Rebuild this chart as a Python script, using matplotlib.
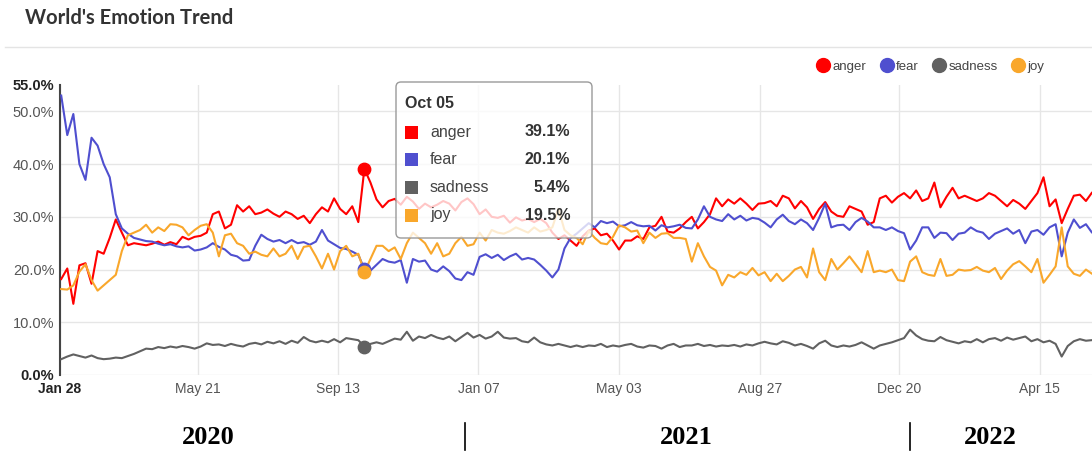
# World's Emotion Trend - share of tweets per emotion, Jan 2020 to May 2022
import matplotlib.pyplot as plt
import pandas as pd
from matplotlib.lines import Line2D
from matplotlib.patches import FancyBboxPatch, Rectangle

# one value every 5 days, starting 2020-01-29
dates = pd.date_range('2020-01-29', periods=172, freq='5D')

anger = [18.2, 20.2, 13.5, 20.8, 21.2, 17.3, 23.5, 23.0, 26.0, 29.5,
         27.0, 24.6, 25.0, 24.8, 24.6, 24.9, 25.3, 24.7, 25.2, 24.8,
         26.2, 25.7, 26.2, 26.4, 27.0, 30.5, 31.0, 27.8, 28.5, 32.2,
         31.0, 32.0, 30.5, 30.8, 31.4, 30.6, 30.0, 31.0, 30.5, 29.6,
         30.2, 28.8, 30.5, 31.8, 31.0, 33.5, 31.5, 30.5, 32.0, 29.0,
         39.1, 36.5, 33.3, 31.8, 33.0, 33.4, 32.3, 33.8, 32.9, 31.5,
         32.5, 31.8, 32.3, 33.0, 32.5, 31.2, 32.8, 33.5, 32.4, 30.5,
         31.4, 30.0, 29.8, 30.2, 28.9, 29.9, 29.3, 29.6, 29.0, 29.6,
         28.8, 27.0, 25.8, 26.5, 25.5, 24.5, 26.3, 27.4, 27.8, 26.5,
         26.8, 25.5, 23.8, 25.5, 25.5, 26.3, 25.8, 28.0, 28.3, 30.0,
         27.2, 27.0, 27.8, 29.0, 30.0, 27.8, 29.0, 30.5, 33.5, 32.0,
         33.3, 32.5, 33.5, 32.5, 31.3, 32.5, 32.6, 33.0, 32.0, 34.0,
         33.5, 31.6, 33.0, 31.8, 29.6, 31.5, 32.8, 31.0, 30.2, 30.0,
         32.0, 31.5, 31.0, 28.5, 29.0, 33.5, 34.0, 32.7, 33.8, 34.5,
         33.5, 35.0, 33.0, 33.5, 36.5, 31.8, 33.8, 35.5, 33.5, 34.0,
         33.5, 33.0, 33.5, 34.5, 34.0, 33.0, 32.0, 33.2, 32.5, 31.5,
         33.0, 34.5, 37.5, 32.0, 33.3, 28.8, 31.5, 34.0, 34.2, 33.0,
         34.6, 35.2]

fear = [53.0, 45.5, 49.5, 40.0, 37.0, 45.0, 43.5, 40.0, 37.5, 30.5,
        27.8, 26.8, 26.0, 25.7, 25.4, 25.3, 24.9, 24.6, 24.8, 24.4,
        24.2, 24.4, 23.6, 23.8, 24.2, 25.0, 24.3, 23.8, 22.8, 22.5,
        21.7, 21.8, 24.5, 26.6, 25.8, 25.3, 25.6, 25.0, 25.6, 25.0,
        25.2, 24.7, 25.3, 27.5, 25.5, 24.8, 24.1, 23.9, 23.4, 22.8,
        20.1, 19.8, 20.9, 22.0, 21.5, 21.3, 21.8, 17.5, 22.0, 21.5,
        21.7, 20.0, 19.6, 20.6, 19.7, 18.3, 18.0, 19.5, 19.0, 22.4,
        22.9, 22.2, 22.8, 21.8, 22.5, 23.0, 21.9, 22.2, 21.9, 20.9,
        19.8, 18.5, 20.0, 24.0, 26.0, 26.8, 27.8, 28.8, 28.0, 29.2,
        28.8, 29.1, 28.2, 28.4, 29.0, 28.4, 28.2, 28.3, 27.4, 28.4,
        28.0, 28.2, 28.5, 27.9, 27.8, 29.5, 32.0, 30.0, 29.5, 29.2,
        30.5, 29.5, 30.2, 29.3, 29.8, 29.6, 28.9, 28.0, 29.5, 30.4,
        29.2, 28.6, 29.5, 28.8, 27.5, 29.8, 32.5, 28.0, 28.4, 28.5,
        27.5, 29.0, 29.8, 29.1, 28.0, 28.0, 27.5, 28.0, 27.3, 26.9,
        23.8, 25.5, 28.0, 28.0, 26.0, 27.0, 26.9, 25.6, 26.8, 27.0,
        28.0, 27.3, 27.0, 25.8, 26.8, 27.3, 27.8, 26.8, 27.5, 25.0,
        27.2, 27.5, 26.6, 28.0, 28.6, 22.5, 27.0, 29.5, 27.9, 28.6,
        27.0, 27.8]

sadness = [3.0, 3.5, 3.9, 3.6, 3.3, 3.7, 3.2, 3.0, 3.1, 3.3,
           3.2, 3.6, 4.0, 4.5, 5.0, 4.9, 5.3, 5.1, 5.4, 5.2,
           5.5, 5.3, 5.0, 5.4, 6.0, 5.7, 5.8, 5.5, 5.9, 5.6,
           5.4, 5.9, 6.1, 5.8, 6.3, 6.0, 6.4, 5.9, 6.5, 6.1,
           7.2, 6.5, 6.2, 6.5, 6.2, 6.8, 6.2, 7.0, 6.8, 6.6,
           5.4, 5.9, 6.2, 5.9, 6.4, 6.9, 6.7, 8.2, 6.5, 7.3,
           7.0, 7.6, 7.1, 6.8, 7.3, 6.4, 7.2, 8.0, 7.1, 7.6,
           6.9, 7.3, 8.2, 7.1, 6.9, 7.0, 6.4, 6.2, 7.1, 6.2,
           5.8, 5.6, 5.9, 5.6, 5.3, 5.6, 5.3, 5.6, 5.5, 5.9,
           5.3, 5.6, 5.4, 5.7, 5.9, 5.4, 5.2, 5.6, 5.5, 5.0,
           5.6, 5.9, 5.3, 5.6, 5.6, 5.9, 5.5, 5.7, 5.4, 5.6,
           5.5, 5.7, 5.4, 5.8, 5.6, 6.0, 6.3, 6.0, 5.8, 6.4,
           6.1, 5.6, 5.9, 5.5, 5.0, 6.0, 6.5, 5.6, 5.3, 5.6,
           5.4, 5.7, 6.2, 5.6, 5.0, 5.6, 5.9, 6.2, 6.6, 7.0,
           8.6, 7.5, 6.8, 6.5, 6.4, 7.2, 6.6, 6.3, 6.0, 6.4,
           6.2, 6.8, 6.2, 6.8, 7.0, 6.5, 7.1, 6.7, 7.0, 7.3,
           6.4, 6.8, 6.2, 6.5, 5.9, 3.5, 5.5, 6.4, 6.8, 6.5,
           6.6, 6.8]

joy = [16.3, 16.2, 17.0, 19.6, 21.0, 18.0, 16.0, 17.0, 18.0, 19.0,
       23.5, 26.5, 27.0, 27.5, 28.5, 27.0, 28.0, 27.3, 28.6, 28.5,
       28.0, 26.5, 27.5, 28.3, 28.6, 27.0, 22.5, 26.5, 26.8, 25.0,
       24.5, 23.0, 23.4, 22.8, 22.5, 24.0, 22.5, 23.0, 24.5, 22.0,
       24.3, 24.5, 22.5, 20.2, 23.0, 20.0, 23.5, 24.5, 22.5, 23.0,
       19.5, 22.0, 24.5, 24.5, 23.5, 24.2, 22.0, 25.0, 27.0, 26.0,
       25.0, 23.0, 25.0, 22.5, 23.0, 25.0, 26.2, 24.5, 24.8, 27.0,
       25.5, 27.5, 27.0, 26.8, 27.3, 28.0, 27.5, 27.0, 28.0, 27.2,
       27.5, 28.0, 31.5, 27.5, 26.5, 26.0, 24.8, 27.3, 26.0, 25.0,
       24.8, 26.2, 28.4, 28.0, 27.2, 27.4, 25.0, 27.0, 26.0, 26.8,
       26.9, 26.0, 26.0, 25.8, 21.5, 25.0, 22.5, 20.5, 19.8, 17.0,
       19.0, 18.5, 19.5, 19.0, 20.3, 18.9, 19.5, 17.8, 19.2, 17.8,
       18.8, 20.0, 20.5, 18.5, 24.0, 19.5, 18.0, 22.0, 20.0, 21.2,
       22.5, 21.0, 19.5, 23.5, 19.5, 19.8, 19.5, 20.0, 18.0, 17.8,
       21.5, 22.5, 19.5, 19.0, 18.8, 22.0, 18.8, 19.0, 20.0, 19.8,
       19.9, 20.5, 19.8, 19.5, 20.3, 18.2, 19.8, 21.0, 21.6, 20.6,
       19.5, 22.0, 17.5, 19.0, 20.6, 28.0, 20.6, 19.2, 18.8, 20.0,
       19.2, 18.8]

names = ['anger', 'fear', 'sadness', 'joy']
colors = ['#ff0000', '#4f4fcf', '#616161', '#f9a72b']

tick_dates = ['2020-01-28', '2020-05-21', '2020-09-13', '2021-01-07',
              '2021-05-03', '2021-08-27', '2021-12-20', '2022-04-15']
tick_labels = ['Jan 28', 'May 21', 'Sep 13', 'Jan 07', 'May 03', 'Aug 27', 'Dec 20', 'Apr 15']
y_ticks = [0, 10, 20, 30, 40, 50, 55]
years = ['2020', '2021', '2022']
hover_idx = 50  # Oct 05

plt.rcParams['font.family'] = ['Liberation Sans', 'DejaVu Sans']

W, H = 1092, 451
fig = plt.figure(figsize=(W / 100, H / 100), dpi=100)
ax = fig.add_axes([60 / W, 1 - 375 / H, (W - 60) / W, 290 / H])

series = [anger, fear, sadness, joy]
for vals, name, c in zip(series, names, colors):
    ax.plot(dates, vals, color=c, lw=1.5, label=name, zorder=3)

# hover markers
for vals, c in zip(series, colors):
    ax.scatter(dates[hover_idx], vals[hover_idx], s=80, color=c, zorder=4)

ax.set_xlim(pd.Timestamp('2020-01-28'), pd.Timestamp('2020-01-28') + pd.Timedelta(days=851))
ax.set_ylim(0, 55)
ax.set_xticks(pd.to_datetime(tick_dates))
ax.set_xticklabels(tick_labels)
ax.set_yticks(y_ticks)
ax.set_yticklabels([f'{v:.1f}%' for v in y_ticks])
ax.tick_params(length=0, labelcolor='#555555')
ax.tick_params(axis='x', pad=5, labelsize=10)
ax.tick_params(axis='y', pad=4, labelsize=10.5)
for lbl in [ax.get_xticklabels()[0], ax.get_yticklabels()[0], ax.get_yticklabels()[-1]]:
    lbl.set_fontweight('bold')
    lbl.set_color('#222222')

ax.grid(True, color='#e6e6e6', lw=1)
ax.get_ygridlines()[-1].set_visible(False)
for s in ['top', 'right', 'bottom']:
    ax.spines[s].set_visible(False)
ax.spines['left'].set_color('#444444')
ax.spines['left'].set_linewidth(1.5)

# tooltip box (pixel positions via inches, 100 px per inch)
tr = fig.dpi_scale_trans
box = FancyBboxPatch((3.96, (H - 238) / 100), 1.96, 1.56,
                     boxstyle='round,pad=0,rounding_size=0.05',
                     facecolor='white', alpha=0.78, edgecolor='none',
                     transform=tr, zorder=10)
fig.add_artist(box)
edge = FancyBboxPatch((3.96, (H - 238) / 100), 1.96, 1.56,
                      boxstyle='round,pad=0,rounding_size=0.05',
                      facecolor='none', edgecolor='#9a9a9a',
                      lw=1, transform=tr, zorder=11)
fig.add_artist(edge)
fig.text(4.05, (H - 103) / 100, dates[hover_idx].strftime('%b %d'), transform=tr,
         fontsize=11.5, fontweight='bold', color='#333333', va='center', zorder=12)
row_y = [132, 159, 187, 215]
for vals, name, c, ry in zip(series, names, colors, row_y):
    yy = (H - ry) / 100
    fig.add_artist(Rectangle((4.05, yy - 0.065), 0.13, 0.13, facecolor=c,
                             edgecolor='none', transform=tr, zorder=12))
    fig.text(4.30, yy, name, transform=tr, fontsize=11.5, color='#444444',
             va='center', zorder=12)
    fig.text(5.70, yy, f'{vals[hover_idx]:.1f}%', transform=tr, fontsize=11.5,
             fontweight='bold', color='#333333', va='center', ha='right', zorder=12)

# legend
handles = [Line2D([], [], marker='o', linestyle='', markersize=10, color=c) for c in colors]
fig.legend(handles, names, loc='center left', bbox_to_anchor=(812 / W, 1 - 67 / H),
           ncol=4, frameon=False, fontsize=9.5, handletextpad=0.25, columnspacing=1.1,
           borderaxespad=0, labelcolor='#444444', handlelength=0.9)

# title and header rule
fig.text(25 / W, 1 - 18 / H, "World's Emotion Trend", fontsize=14.5, fontweight='bold',
         color='#333333', va='center', family=['Lato', 'DejaVu Sans'])
fig.add_artist(Line2D([5 / W, 1], [1 - 47 / H, 1 - 47 / H], color='#e4e4e4', lw=1))

# year labels under the axis
for yr, xp in zip(years, [208, 686, 990]):
    fig.text(xp / W, 1 - 437 / H, yr, fontsize=19, fontweight='bold', color='black',
             ha='center', va='center', family=['Liberation Serif', 'DejaVu Serif'])
for xp in [465, 910]:
    fig.add_artist(Line2D([xp / W, xp / W], [1 - 423 / H, 1 - 450 / H], color='black', lw=1.2))

fig.savefig('out.png', dpi=100)
